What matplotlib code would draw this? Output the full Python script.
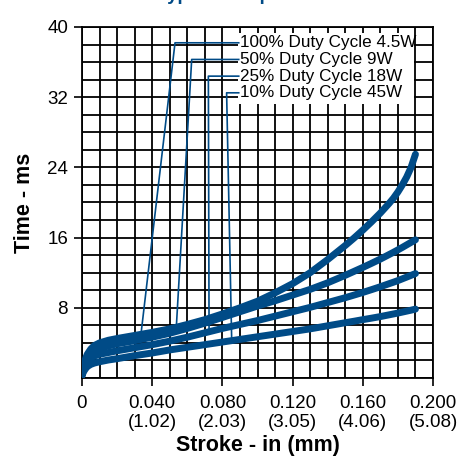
import numpy as np
import matplotlib
matplotlib.use("Agg")
import matplotlib.pyplot as plt
from matplotlib.patches import Rectangle

plt.rcParams["font.family"] = ["Liberation Sans", "DejaVu Sans"]

BLUE = "#004b87"

# stroke (in) and time (ms)
stroke = [0, 0.001, 0.002, 0.003, 0.005, 0.007, 0.01, 0.015, 0.02, 0.03, 0.04,
          0.05, 0.06, 0.07, 0.08, 0.09, 0.10, 0.11, 0.12, 0.13, 0.14, 0.15,
          0.155, 0.16, 0.165, 0.17, 0.175, 0.1775, 0.18, 0.1825, 0.185, 0.1875, 0.19]
t_100 = [0.3, 1.5, 2.2, 2.7, 3.3, 3.7, 4.0, 4.3, 4.5, 4.85, 5.2,
         5.6, 6.1, 6.65, 7.3, 8.0, 8.75, 9.7, 10.75, 12.0, 13.5, 15.1,
         15.95, 16.85, 17.8, 18.8, 19.9, 20.5, 21.2, 22.0, 22.9, 24.0, 25.5]
t_50 = [0.3, 1.2, 1.8, 2.3, 2.8, 3.1, 3.35, 3.65, 3.9, 4.25, 4.65,
        5.1, 5.65, 6.25, 6.9, 7.55, 8.2, 8.8, 9.45, 10.1, 10.85, 11.7,
        12.15, 12.6, 13.07, 13.55, 14.07, 14.33, 14.6, 14.88, 15.17, 15.46, 15.75]
t_25 = [0.3, 1.0, 1.5, 1.85, 2.25, 2.5, 2.7, 2.9, 3.1, 3.45, 3.8,
        4.2, 4.65, 5.15, 5.65, 6.1, 6.55, 7.05, 7.55, 8.05, 8.6, 9.15,
        9.45, 9.75, 10.07, 10.4, 10.75, 10.92, 11.1, 11.3, 11.5, 11.7, 11.9]
t_10 = [0.3, 0.75, 1.05, 1.3, 1.55, 1.7, 1.85, 2.05, 2.2, 2.55, 2.85,
        3.2, 3.5, 3.8, 4.1, 4.4, 4.7, 5.0, 5.3, 5.6, 5.95, 6.3,
        6.47, 6.65, 6.82, 7.0, 7.2, 7.3, 7.4, 7.51, 7.62, 7.73, 7.85]

labels = ["100% Duty Cycle 4.5W", "50% Duty Cycle 9W",
          "25% Duty Cycle 18W", "10% Duty Cycle 45W"]
series = [t_100, t_50, t_25, t_10]

# leader lines: where each label points on its curve, and the bend point
label_y = [38.2, 36.3, 34.4, 32.5]
bend_x = [0.053, 0.0625, 0.072, 0.0824]
point_x = [0.0336, 0.0536, 0.0724, 0.0853]
label_x = 0.0893

xticks = [0, 0.04, 0.08, 0.12, 0.16, 0.20]
xticklabels = ["0", "0.040\n(1.02)", "0.080\n(2.03)", "0.120\n(3.05)",
               "0.160\n(4.06)", "0.200\n(5.08)"]
yticks = [8, 16, 24, 32, 40]

fig = plt.figure(figsize=(4.6, 4.61), dpi=100)
ax = fig.add_axes([82 / 460, 1 - 378 / 461, 351 / 460, 351 / 461])

ax.set_xlim(0, 0.2)
ax.set_ylim(0, 40)
ax.set_xticks(xticks)
ax.set_xticklabels(xticklabels)
ax.set_yticks(yticks)
ax.set_xticks(np.arange(0, 0.2001, 0.01), minor=True)
ax.set_yticks(np.arange(0, 40.1, 2), minor=True)
ax.tick_params(which="minor", length=0)
ax.tick_params(which="major", length=6, width=1.2, labelsize=13.5)
ax.tick_params(axis="x", pad=6)
ax.tick_params(axis="y", pad=4)
ax.set_axisbelow(True)
ax.grid(True, which="both", color="black", linewidth=1.3)
for s in ax.spines.values():
    s.set_linewidth(1.3)

for ys in series:
    ax.plot(stroke, ys, color=BLUE, lw=5, solid_capstyle="round",
            solid_joinstyle="round", zorder=3)

# white box behind the labels
ax.add_patch(Rectangle((0.0889, 31.2), 0.1003, 8.1, facecolor="white",
                       edgecolor="none", zorder=1.5))

for lab, ly, bx, px, ys in zip(labels, label_y, bend_x, point_x, series):
    py = np.interp(px, stroke, ys)
    ax.plot([px, bx, label_x], [py, ly, ly], color=BLUE, lw=1.2, zorder=2.5)
    ax.text(label_x + 0.001, ly, lab, fontsize=12.3, va="center", ha="left", zorder=4)

ax.set_xlabel("Stroke - in (mm)", fontsize=15.5, fontweight="bold", labelpad=3)
ax.set_ylabel("Time - ms", fontsize=15.5, fontweight="bold", labelpad=9)

# title sits mostly above the top edge, as in the source image
fig.text(0.565, 1 + 0.5 / 461, "Typical Response Time", fontsize=13.5,
         fontweight="bold", color=BLUE, ha="center", va="baseline")

fig.savefig("out.png", dpi=100)
